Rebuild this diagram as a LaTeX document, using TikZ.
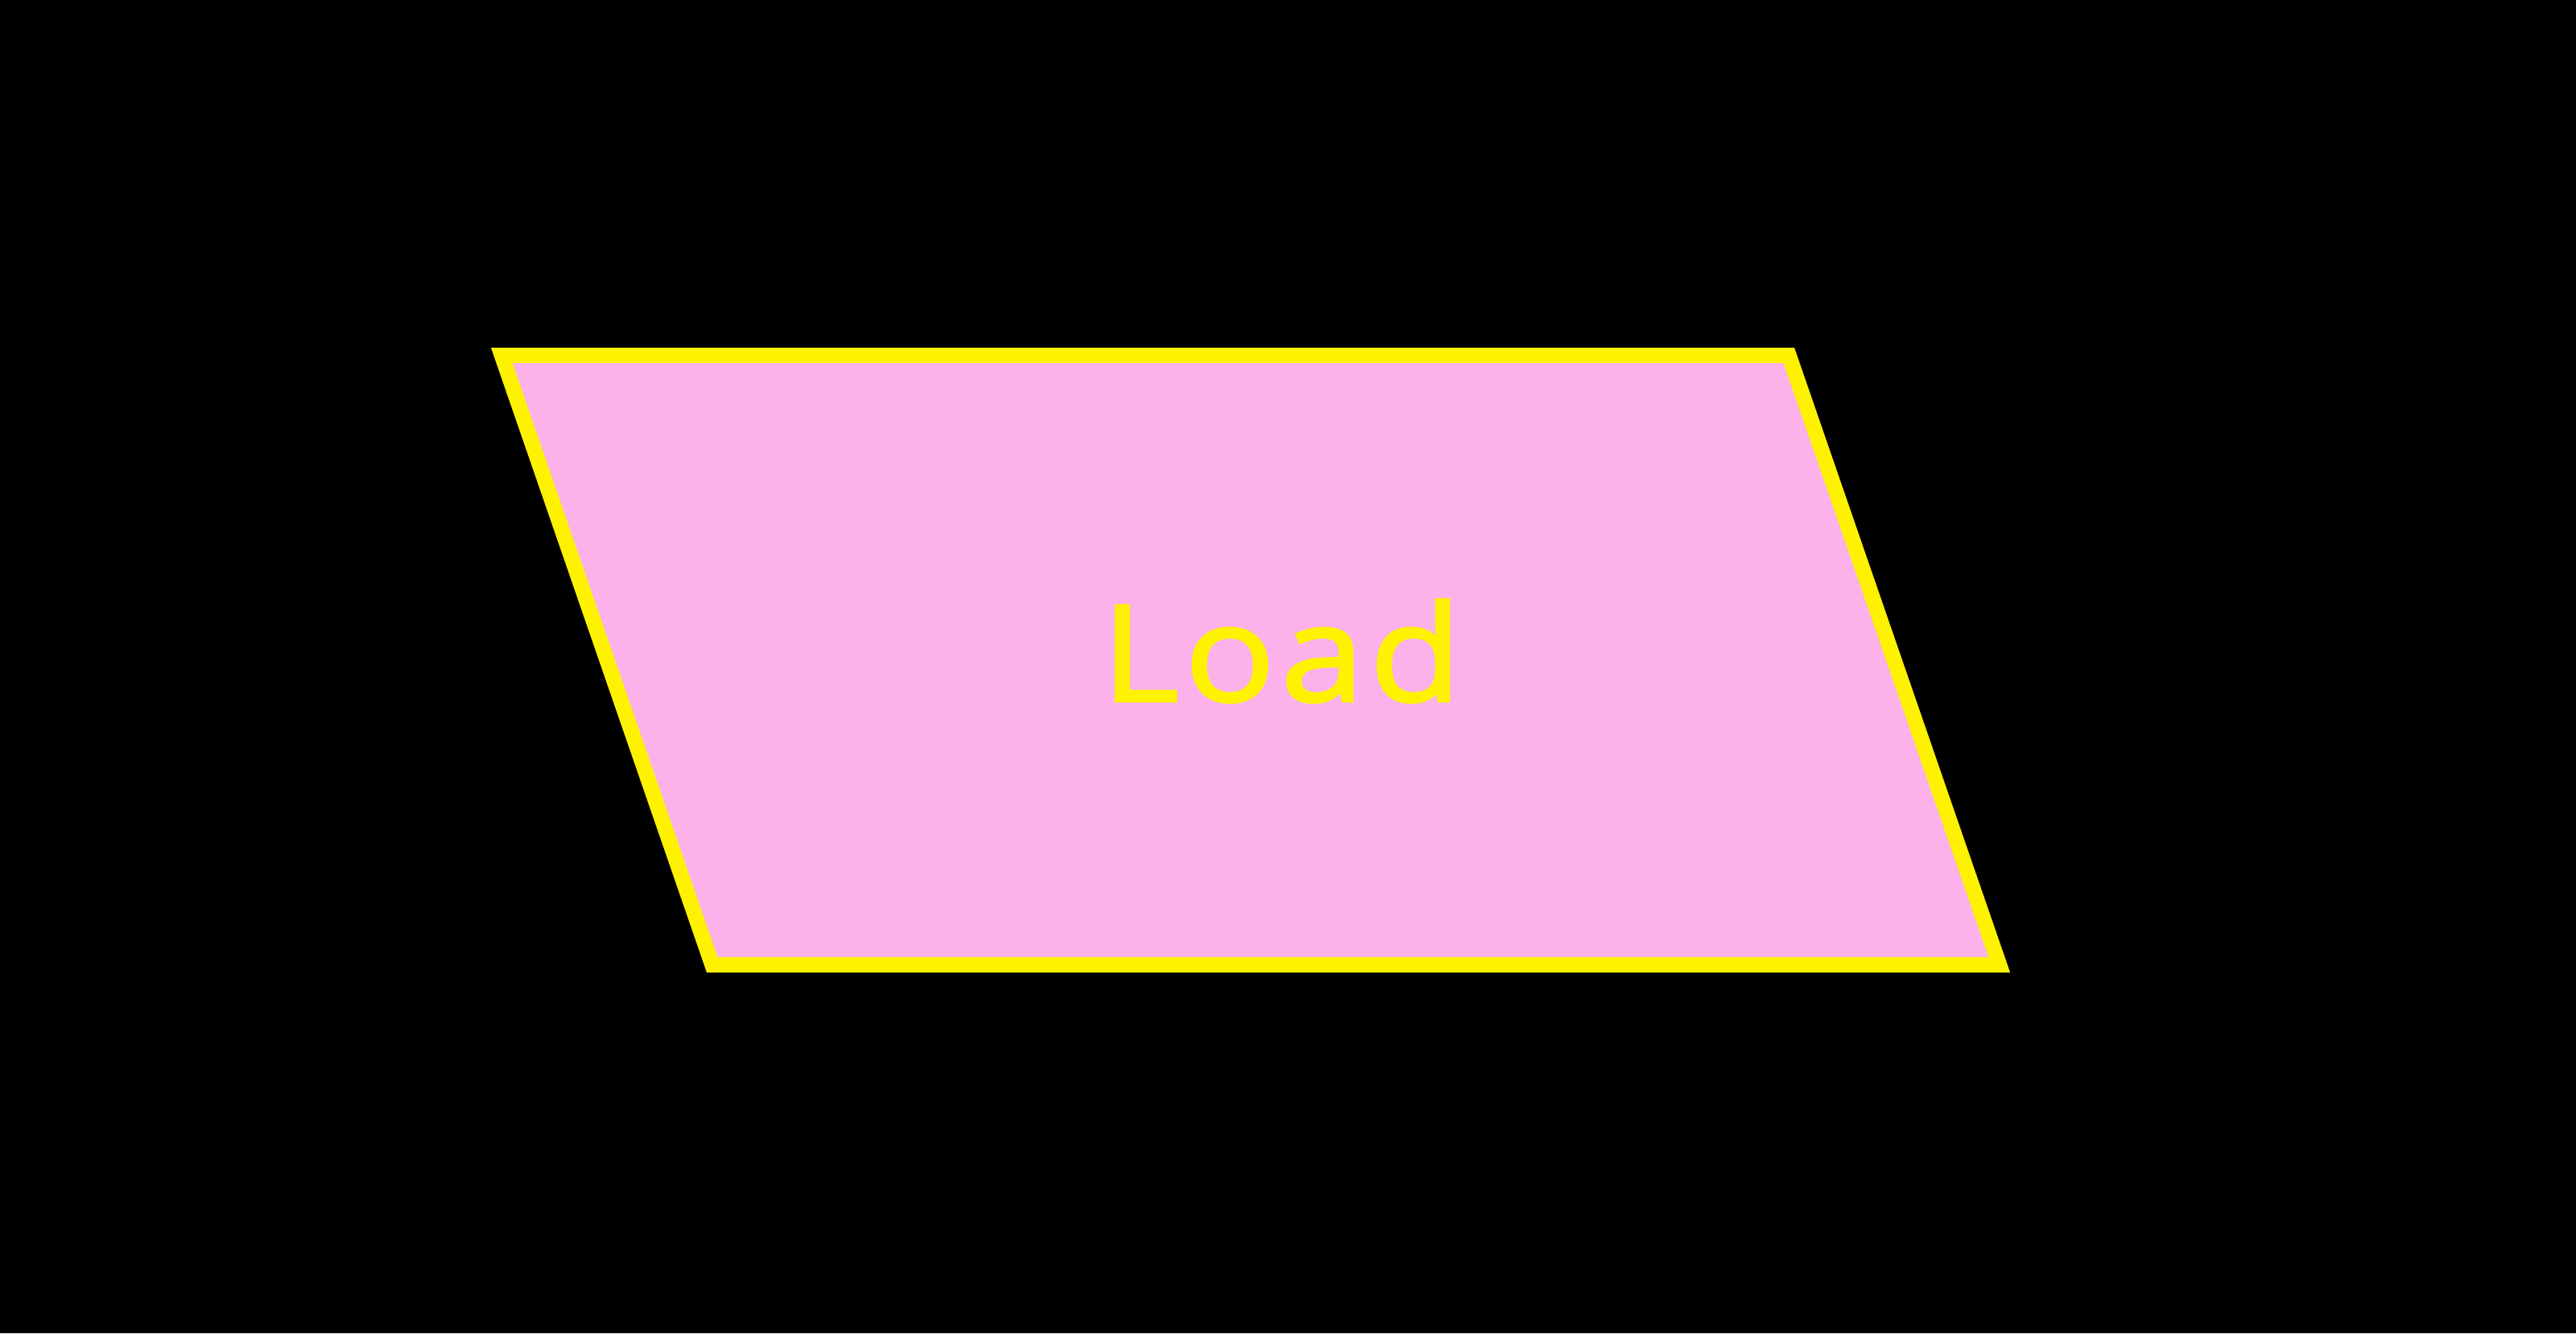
\documentclass[tikz,border=0pt]{standalone}
\usepackage{fontspec}
\newfontfamily\loadfont[FakeStretch=1.12, FakeBold=2, LetterSpace=4]{Open Sans}
\definecolor{pinkfill}{HTML}{FBB1EA}
\definecolor{loadyellow}{HTML}{FFF200}

\begin{document}
\begin{tikzpicture}[iobox/.style={loadyellow, line width=.19cm, fill=pinkfill, miter limit=10}]
\fill[black](0,0) rectangle (32,16.56);
\draw[iobox](6.233,12.145)--(22.223,12.145)--(24.837,4.575)--(8.847,4.575)--cycle;
\node[anchor=base, text=loadyellow, inner sep=0] (load) at (15.92,7.85){\loadfont\fontsize{47.4}{57}\selectfont Load};
\end{tikzpicture}
\end{document}
